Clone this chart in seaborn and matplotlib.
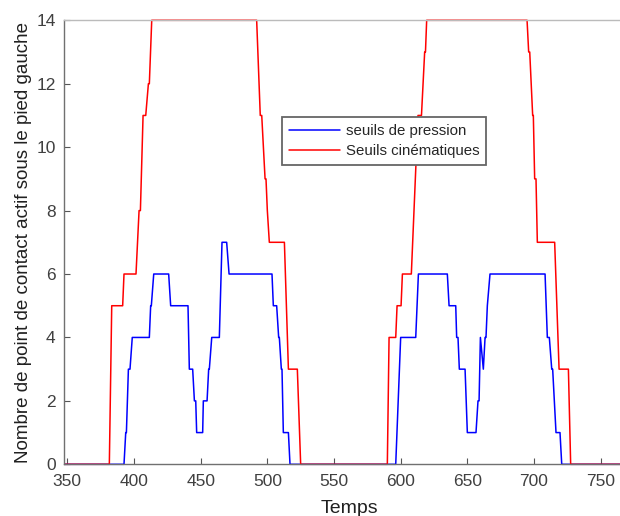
import pandas as pd
import seaborn as sns
import matplotlib.pyplot as plt

# Points de rupture (temps, nombre de points actifs)
temps_pression = [348, 392.5, 393.8, 394.3, 395.8, 397, 398.7, 411.5, 412.5, 413, 414.8, 426,
                  427.5, 440.5, 441.5, 444, 445.3, 446.3, 447, 451.5, 452, 454.8, 456, 456.5,
                  458.3, 464, 466, 469.5, 471.3, 503.5, 504.5, 507, 508.5, 509, 510.5, 511,
                  512, 515.8, 517, 596.3, 600, 611.3, 613.3, 635, 636.3, 641.3, 642, 643,
                  644, 648.3, 650, 656.5, 658, 658.8, 659.8, 662, 663.3, 664, 665, 667,
                  708.3, 710, 711.5, 713.3, 714, 716.5, 719.5, 720.8, 775]
seuils_pression = [0, 0, 1, 1, 3, 3, 4, 4, 5, 5, 6, 6,
                   5, 5, 3, 3, 2, 2, 1, 1, 2, 2, 3, 3,
                   4, 4, 7, 7, 6, 6, 5, 5, 4, 4, 3, 3,
                   1, 1, 0, 0, 4, 4, 6, 6, 5, 5, 4, 4,
                   3, 3, 1, 1, 2, 2, 4, 3, 4, 4, 5, 6,
                   6, 4, 4, 3, 3, 1, 1, 0, 0]

temps_cinem = [348, 381.5, 383.3, 391.5, 392.5, 401.5, 403.8, 404.8, 406.8, 408.8, 410.8, 411.5,
               413.3, 492, 494.7, 495.8, 498.3, 499, 500, 501.5, 512.8, 515.8, 522.5, 525,
               590, 591.3, 596.3, 597.3, 600.3, 601.3, 608, 613, 615.6, 618, 618.6, 619.5,
               694.8, 696, 696.8, 699, 699.5, 700.5, 701.5, 702.5, 715.5, 718.8, 725.8, 727.5,
               775]
seuils_cinem = [0, 0, 5, 5, 6, 6, 8, 8, 11, 11, 12, 12,
                14, 14, 11, 11, 9, 9, 8, 7, 7, 3, 3, 0,
                0, 4, 4, 5, 5, 6, 6, 11, 11, 13, 13, 14,
                14, 13, 13, 11, 11, 9, 9, 7, 7, 3, 3, 0,
                0]

noms = ['seuils de pression', 'Seuils cinématiques']

df_p = pd.DataFrame({'temps': temps_pression, 'valeur': seuils_pression})
df_c = pd.DataFrame({'temps': temps_cinem, 'valeur': seuils_cinem})

sns.set_style('white')
plt.rcParams['font.family'] = ['Liberation Sans', 'DejaVu Sans']

fig = plt.figure(figsize=(6.2, 5.16), dpi=100)
ax = fig.add_axes([64 / 620, 1 - 464.3 / 516, 570 / 620, 444 / 516])

# Tracé des deux séries
sns.lineplot(x='temps', y='valeur', data=df_p, ax=ax, color='#0000ff', lw=1.1,
             estimator=None, sort=False, label=noms[0], clip_on=False)
sns.lineplot(x='temps', y='valeur', data=df_c, ax=ax, color='#ff0000', lw=1.1,
             estimator=None, sort=False, label=noms[1], clip_on=False)

ax.set_xlim(347.5, 775)
ax.set_ylim(0, 14)
ax.set_xticks(range(350, 751, 50))
ax.set_yticks(range(0, 15, 2))
ax.tick_params(bottom=True, left=True, direction='in', length=4.5, width=0.8,
               colors='#555555', labelcolor='#404040', labelsize=12.5, pad=6)
ax.tick_params(axis='x', pad=7)

for s in ['left', 'bottom']:
    ax.spines[s].set_color('#707070')
    ax.spines[s].set_linewidth(1.0)
ax.spines['top'].set_color('#bbbbbb')
ax.spines['top'].set_linewidth(1.0)
ax.spines['right'].set_visible(False)

ax.set_xlabel('Temps', fontsize=14, color='#202020', labelpad=8)
ax.set_ylabel('Nombre de point de contact actif sous le pied gauche', fontsize=13.5,
              color='#202020', labelpad=3)

leg = ax.legend(loc='upper left', bbox_to_anchor=(282 / 620, 1 - 117 / 516),
                bbox_transform=fig.transFigure, fontsize=10.8, frameon=True,
                fancybox=False, framealpha=1, edgecolor='#666666', handlelength=3.4,
                handletextpad=0.4, borderpad=0.45, labelspacing=0.45, borderaxespad=0)
leg.get_frame().set_linewidth(1.3)

fig.savefig('out.png', dpi=100)
